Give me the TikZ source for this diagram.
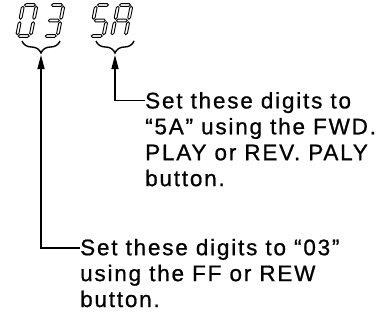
\documentclass[tikz,border=0pt]{standalone}
\usepackage{fontspec}
\setmainfont{Liberation Sans}[LetterSpace=8,FakeBold=0.8]
\usetikzlibrary{arrows.meta,decorations.pathreplacing}
\newcommand\hsg[3]{\draw[seg] (#1,#3) -- (#1+1.4,#3+1.4) -- (#2-1.4,#3+1.4) -- (#2,#3) -- (#2-1.4,#3-1.4) -- (#1+1.4,#3-1.4) -- cycle;}
\newcommand\vsg[3]{\draw[seg] (#1,#2) -- (#1+1.4,#2+1.4) -- (#1+1.4,#3-1.4) -- (#1,#3) -- (#1-1.4,#3-1.4) -- (#1-1.4,#2+1.4) -- cycle;}
% segments: w=13.5, h=31
\newcommand\segA{\hsg{1.3}{12.2}{31}}
\newcommand\segD{\hsg{1.3}{12.2}{0}}
\newcommand\segG{\hsg{1.3}{12.2}{15.5}}
\newcommand\segF{\vsg{0}{16.8}{29.7}}
\newcommand\segE{\vsg{0}{1.3}{14.2}}
\newcommand\segB{\vsg{13.5}{16.8}{29.7}}
\newcommand\segC{\vsg{13.5}{1.3}{14.2}}
\begin{document}
\begin{tikzpicture}[x=1pt,y=1pt,
  seg/.style={draw=black,fill=white,line width=0.9pt},
  conn/.style={line width=1.4pt},
  arr/.style={conn,-{Triangle[length=14pt,width=7pt]}},
  brc/.style={line width=1.4pt,decorate,decoration={brace,mirror,amplitude=12pt}},
  txt/.style={inner sep=0pt,align=left,font=\fontsize{22.5}{25.9}\selectfont}]
\useasboundingbox (0,0) rectangle (392,-325);
% digits
\begin{scope}[shift={(17,-36)},xslant=0.2]\segA\segB\segC\segD\segE\segF\end{scope}
\begin{scope}[shift={(44,-36)},xslant=0.2]\segA\segB\segC\segD\segG\end{scope}
\begin{scope}[shift={(90,-36)},xslant=0.2]\segA\segF\segG\segC\segD\end{scope}
\begin{scope}[shift={(112,-36)},xslant=0.2]\segA\segB\segC\segE\segF\segG\end{scope}
% braces
\draw[brc] (22,-41) -- (60,-41);
\draw[brc] (96,-41) -- (134,-41);
\coordinate (b1) at (41,-55);
\coordinate (b2) at (115,-55);
% texts (anchored at the baseline of the last line)
\node[txt,anchor=base west] (t2) at (145,-186.1) {Set these digits to\\“5A” using the FWD.\\PLAY or REV. PALY\\button.};
\node[txt,anchor=base west] (t1) at (80,-307) {Set these digits to “03”\\using the FF or REW\\button.};
\coordinate (c2) at (145,-100.5);
\coordinate (c1) at (80,-248);
\draw[arr] (c2) -| (b2);
\draw[arr] (c1) -| (b1);
\end{tikzpicture}
\end{document}
